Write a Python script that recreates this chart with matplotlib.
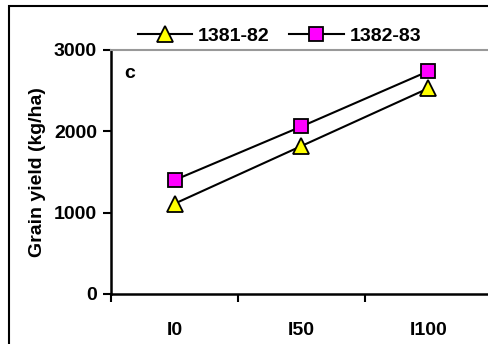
import matplotlib
matplotlib.use("Agg")
import matplotlib.pyplot as plt
from matplotlib.patches import Rectangle

plt.rcParams['font.family'] = ['Liberation Sans', 'DejaVu Sans']
plt.rcParams['font.weight'] = 'bold'

# Datos
categories = ['I0', 'I50', 'I100']
yield_8182 = [1110, 1820, 2530]
yield_8283 = [1400, 2060, 2740]

fig = plt.figure(figsize=(4.88, 3.44), dpi=100)

# Marco exterior
fig.patches.append(Rectangle((9 / 488, -0.05), 1.0, (344 - 6) / 344 + 0.05,
                             transform=fig.transFigure, fill=False,
                             edgecolor='black', linewidth=1.5))

ax = fig.add_axes([111 / 488, 50 / 344, 381 / 488, 244 / 344])

x = [i + 0.5 for i in range(len(categories))]
ax.plot(x, yield_8182, color='black', linewidth=1.5, marker='^', markersize=11,
        markerfacecolor='#ffff00', markeredgecolor='black', markeredgewidth=1.3,
        label='1381-82')
ax.plot(x, yield_8283, color='black', linewidth=1.5, marker='s', markersize=10,
        markerfacecolor='#ff00ff', markeredgecolor='black', markeredgewidth=1.3,
        label='1382-83')

ax.set_xlim(0, 3)
ax.set_ylim(0, 3000)
ax.set_yticks([0, 1000, 2000, 3000])
ax.set_yticklabels(['0', '1000', '2000', '3000'], fontsize=14, fontweight='bold')
ax.set_xticks([0, 1, 2, 3])
ax.set_xticklabels([])
ax.set_xticks(x, minor=True)
ax.set_xticklabels(categories, minor=True, fontsize=14, fontweight='bold')
ax.tick_params(axis='x', which='minor', length=0, pad=20)
ax.tick_params(axis='x', which='major', direction='out', length=6, width=1.5)
ax.tick_params(axis='y', direction='out', length=6, width=1.5, pad=4)

ax.spines['left'].set_linewidth(1.8)
ax.spines['bottom'].set_linewidth(1.8)
ax.spines['top'].set_color('#999999')
ax.spines['top'].set_linewidth(1.5)
ax.spines['right'].set_color('#999999')

ax.set_ylabel('Grain yield (kg/ha)', fontsize=14, fontweight='bold', labelpad=6)
ax.text(0.035, 0.905, 'c', transform=ax.transAxes, fontsize=14, fontweight='bold',
        va='center', ha='left')

ax.legend(loc='lower left', bbox_to_anchor=(0.05, 0.99), ncol=2, frameon=False,
          prop={'size': 14, 'weight': 'bold'}, handlelength=2.8,
          columnspacing=1.0, handletextpad=0.3, borderaxespad=0.0)

fig.savefig('out.png', dpi=100)
